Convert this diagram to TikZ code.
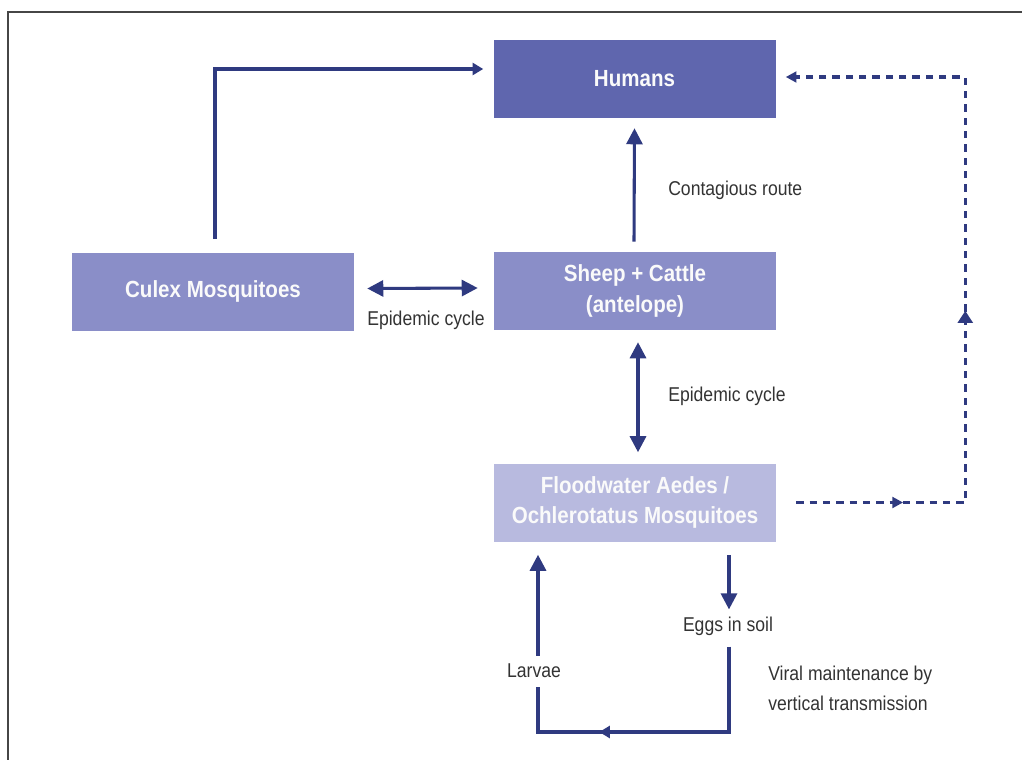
\documentclass[tikz,border=0pt]{standalone}
\usepackage{fontspec}
\setmainfont{Liberation Sans}[FakeStretch=0.88]
\usetikzlibrary{calc,arrows.meta,decorations.markings}

\definecolor{hostdark}{HTML}{5F66AE}
\definecolor{hostmid}{HTML}{8A8EC8}
\definecolor{hostlight}{HTML}{B8BADF}
\definecolor{routeblue}{HTML}{2F3A80}
\definecolor{labelgray}{HTML}{333333}

\tikzset{
  hostbox/.style={minimum width=211.5pt, minimum height=58.5pt, inner sep=0pt,
    align=center, text=white!96!gray, font=\bfseries\fontsize{17.5}{23}\selectfont},
  routelabel/.style={inner sep=0pt, text=labelgray, align=left,
    font=\fontsize{15}{22.5}\selectfont},
  route/.style={routeblue, line width=2.3pt},
  oneway/.style={route, -{Triangle[length=12pt,width=12pt]}},
  twoway/.style={route, {Triangle[length=12pt,width=12pt]}-{Triangle[length=12pt,width=12pt]}},
}

\begin{document}
\begin{tikzpicture}[x=0.75pt, y=-0.75pt]

\useasboundingbox (0,0) rectangle (1022,760);

% Frame (left and top edges only)
\draw[gray!55!black, line width=1.6pt] (8,760) -- (8,12) -- (1022,12);

% Hosts and vectors
\node[hostbox, fill=hostdark]  (humans) at (634.5,79)  {Humans};
\node[hostbox, fill=hostmid]   (culex)  at (213,291.5) {Culex Mosquitoes};
\node[hostbox, fill=hostmid]   (sheep)  at (635,291)   {Sheep + Cattle\\(antelope)};
\node[hostbox, fill=hostlight] (aedes)  at (635,502.5) {Floodwater Aedes /\\Ochlerotatus Mosquitoes};

% Labels
\node[routelabel, anchor=west] (contag) at (668,190) {Contagious route};
\node[routelabel]              (epiL)   at (426,320) {Epidemic cycle};
\node[routelabel, anchor=west] (epiV)   at (668,396) {Epidemic cycle};
\node[routelabel]              (eggs)   at (728,626) {Eggs in soil};
\node[routelabel]              (larvae) at (534,671) {Larvae};
\node[routelabel, anchor=west] (viral)  at (768,688) {Viral maintenance by\\vertical transmission};

% Culex to humans
\draw[route, -{Triangle[length=8pt,width=9pt]}]
  ($(culex.north)+(2,-13)$) |- ($(humans.west)+(-10,-10)$);

% Contagious route
\draw[oneway] ($(sheep.north)+(-1,-10)$) -- ($(humans.south)+(0,10)$);

% Epidemic cycles
\draw[twoway] ($(culex.east)+(13,-3)$) -- ($(sheep.west)+(-16,-3)$);
\draw[twoway] ($(sheep.south)+(3,12)$) -- ($(aedes.north)+(3,-11)$);

% Vertical transmission loop
\draw[oneway] ($(aedes.south)+(94,13)$) -- ($(eggs.north)+(1,-7)$);
\coordinate (loopL) at ($(larvae)+(4,61)$);
\draw[route, postaction={decorate}, decoration={markings,
    mark=at position 0.67 with {\arrow{Triangle[length=8pt,width=9pt]}}}]
  ($(eggs.south)+(1,11)$) |- (loopL) -- ($(larvae.south)+(4,9)$);
\draw[oneway] ($(larvae.north)+(4,-8)$) -- ($(aedes.south)+(-97,13)$);

% Floodwater mosquitoes to humans (dashed)
\coordinate (turnUp) at ($(aedes.east)+(189,0)$);
\draw[route, dash pattern=on 5.5pt off 4.5pt,
    -{Triangle[length=8pt,width=8pt]},
    postaction={decorate}, decoration={markings,
      mark=at position 0.138 with {\arrow{Triangle[length=8pt,width=8pt]}},
      mark=at position 0.466 with {\arrow{Triangle[length=9pt,width=11pt]}}}]
  ($(aedes.east)+(20,0)$) -- (turnUp) |- ($(humans.east)+(10,-2)$);

\end{tikzpicture}
\end{document}
